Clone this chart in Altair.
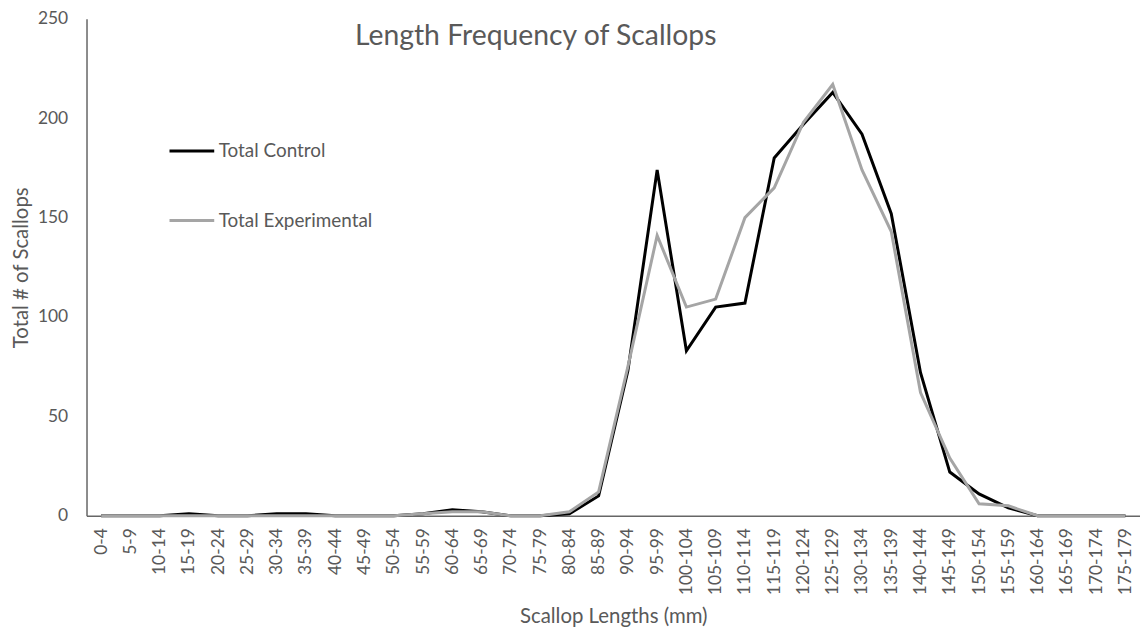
import altair as alt
import pandas as pd

categories = ["0-4", "5-9", "10-14", "15-19", "20-24", "25-29", "30-34", "35-39",
              "40-44", "45-49", "50-54", "55-59", "60-64", "65-69", "70-74", "75-79",
              "80-84", "85-89", "90-94", "95-99", "100-104", "105-109", "110-114",
              "115-119", "120-124", "125-129", "130-134", "135-139", "140-144",
              "145-149", "150-154", "155-159", "160-164", "165-169", "170-174", "175-179"]

total_control = [0, 0, 0, 1, 0, 0, 1, 1, 0, 0, 0, 1, 3, 2, 0, 0, 1, 10, 73, 174,
                 83, 105, 107, 180, 197, 213, 192, 152, 72, 22, 11, 4, 0, 0, 0, 0]

total_experimental = [0, 0, 0, 0, 0, 0, 0, 0, 0, 0, 0, 1, 2, 2, 0, 0, 2, 12, 75, 141,
                      105, 109, 150, 165, 198, 217, 174, 143, 62, 29, 6, 5, 0, 0, 0, 0]

series_names = ["Total Control", "Total Experimental"]
series_colors = ["#000000", "#a5a5a5"]

rows = []
for i, c in enumerate(categories):
    rows.append({"length": c, "series": series_names[0], "count": total_control[i], "order": i})
    rows.append({"length": c, "series": series_names[1], "count": total_experimental[i], "order": i})
df = pd.DataFrame(rows)

FONT = "Lato"
GREY = "#595959"

W, H = 1060, 500

lines = alt.Chart(df).mark_line(strokeWidth=3, strokeJoin="miter").encode(
    x=alt.X("length:O", sort=categories,
            scale=alt.Scale(type="point", padding=0.5),
            axis=alt.Axis(title="Scallop Lengths (mm)", labelAngle=-90, ticks=False,
                          labelPadding=12, titlePadding=12)),
    y=alt.Y("count:Q", scale=alt.Scale(domain=[0, 250], nice=False),
            axis=alt.Axis(title="Total # of Scallops", values=[0, 50, 100, 150, 200, 250],
                          ticks=False, grid=False, labelPadding=19, titlePadding=6)),
    color=alt.Color("series:N", scale=alt.Scale(domain=series_names, range=series_colors),
                    legend=alt.Legend(title=None, orient="none", legendX=82, legendY=109,
                                      symbolType="stroke", symbolSize=2025, symbolStrokeWidth=3,
                                      rowPadding=36, labelFontSize=19, labelColor=GREY,
                                      labelFont=FONT, labelOffset=3)),
    order="order:Q",
)

title_df = pd.DataFrame({"t": ["Length Frequency of Scallops"]})
title = alt.Chart(title_df).mark_text(fontSize=28.5, font=FONT, color=GREY, align="center",
                                      baseline="alphabetic").encode(
    text="t:N", x=alt.value(452), y=alt.value(26))

chart = alt.layer(lines, title).properties(
    width=W, height=H, background="white",
    padding={"left": 3, "top": 0, "right": 0, "bottom": 2},
).configure_view(stroke=None).configure_axis(
    labelFont=FONT, titleFont=FONT, labelColor=GREY, titleColor=GREY,
    labelFontSize=17.5, titleFontSize=20.5, titleFontWeight="normal",
    domainColor="#666666", domainWidth=1.5,
)

chart.save("out.html", embed_options={"renderer": "svg", "actions": False})
